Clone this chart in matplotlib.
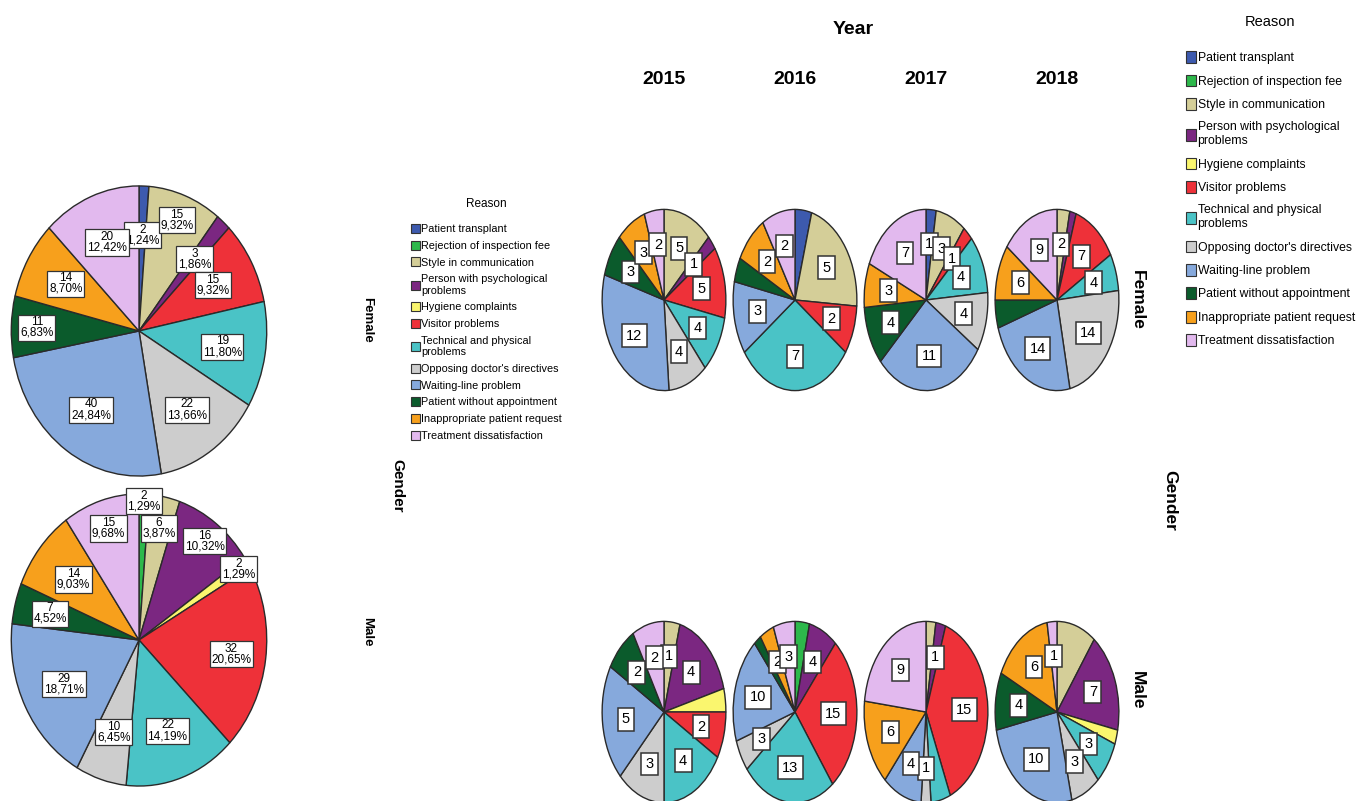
import matplotlib
matplotlib.use("Agg")
import matplotlib.pyplot as plt
from matplotlib.patches import Patch
import numpy as np

# Complaint reasons and their colours (SPSS style)
reasons = ["Patient transplant", "Rejection of inspection fee", "Style in communication",
           "Person with psychological\nproblems", "Hygiene complaints", "Visitor problems",
           "Technical and physical\nproblems", "Opposing doctor's directives",
           "Waiting-line problem", "Patient without appointment",
           "Inappropriate patient request", "Treatment dissatisfaction"]
colors = ["#3D5AAE", "#2DB84B", "#D4CE98", "#7B2781", "#FAF66E", "#EE3139",
          "#4AC3C6", "#CDCDCD", "#86A9DC", "#0B5B2C", "#F7A01C", "#E2B9EE"]

# Totals by gender
female_total = [2, 0, 15, 3, 0, 15, 19, 22, 40, 11, 14, 20]
male_total = [0, 2, 6, 16, 2, 32, 22, 10, 29, 7, 14, 15]

# Counts by gender and year
years = ["2015", "2016", "2017", "2018"]
female_2015 = [0, 0, 5, 1, 0, 5, 4, 4, 12, 3, 3, 2]
female_2016 = [1, 0, 5, 0, 0, 2, 7, 0, 3, 1, 2, 2]
female_2017 = [1, 0, 3, 0, 0, 1, 4, 4, 11, 4, 3, 7]
female_2018 = [0, 0, 2, 1, 0, 7, 4, 14, 14, 3, 6, 9]
male_2015 = [0, 0, 1, 4, 1, 2, 4, 3, 5, 2, 0, 2]
male_2016 = [0, 2, 0, 4, 0, 15, 13, 3, 10, 1, 2, 3]
male_2017 = [0, 0, 1, 1, 0, 15, 2, 1, 4, 0, 6, 9]
male_2018 = [0, 0, 4, 7, 1, 0, 3, 3, 10, 4, 6, 1]

# slices that carry no label in the original (hidden by label collisions)
female_hidden = [[], [0, 9], [], [3, 9]]
male_hidden = [[4], [1, 9], [2, 6], [2, 4]]
# label distance from centre for the big pies (fraction of radius)
female_label_r = {2: 0.82, 9: 0.8}
male_label_r = {1: 0.95, 2: 0.78, 3: 0.85, 4: 0.92, 11: 0.8, 5: 0.73, 9: 0.72}

W, H = 1366, 801
fig = plt.figure(figsize=(W / 100, H / 100), dpi=100)
arial = ["Liberation Sans", "DejaVu Sans"]


def px_axes(cx, cy, w, h):
    return fig.add_axes([(cx - w / 2) / W, 1 - (cy + h / 2) / H, w / W, h / H])


def draw_pie(ax, values, big=False, hidden=(), label_r=None):
    vals = np.array(values, dtype=float)
    keep = vals > 0
    idx = np.where(keep)[0]
    ax.pie(vals[keep], colors=[colors[i] for i in idx], startangle=90, counterclock=False,
           wedgeprops=dict(edgecolor="#2a2a2a", linewidth=1.0))
    ax.set_aspect("auto")
    ax.set_xlim(-1.01, 1.01)
    ax.set_ylim(-1.01, 1.01)
    total = vals.sum()
    start = 90.0
    for i in idx:
        span = vals[i] / total * 360
        mid = np.radians(start - span / 2)
        start -= span
        if i in hidden:
            continue
        if big:
            r = (label_r or {}).get(i, 0.66)
            txt = f"{int(vals[i])}\n{vals[i] / total * 100:.2f}%".replace(".", ",")
            ax.text(r * np.cos(mid), r * np.sin(mid), txt, ha="center", va="center",
                    fontsize=8.5, family=arial, linespacing=0.85,
                    bbox=dict(boxstyle="square,pad=0.15", fc="white", ec="#333333", lw=0.9))
        else:
            r = 0.62
            ax.text(r * np.cos(mid), r * np.sin(mid), str(int(vals[i])), ha="center",
                    va="center", fontsize=10.5, family=arial,
                    bbox=dict(boxstyle="square,pad=0.3", fc="white", ec="#333333", lw=1.1))


# Left: pies per gender
draw_pie(px_axes(139, 331, 258, 293), female_total, big=True, label_r=female_label_r)
draw_pie(px_axes(139, 640, 258, 295), male_total, big=True, label_r=male_label_r)

# Right: pies per gender and year
xs = [664, 795, 926, 1057]
fem = [female_2015, female_2016, female_2017, female_2018]
mal = [male_2015, male_2016, male_2017, male_2018]
for k in range(4):
    draw_pie(px_axes(xs[k], 300, 125, 183), fem[k], hidden=female_hidden[k])
    draw_pie(px_axes(xs[k], 712, 125, 183), mal[k], hidden=male_hidden[k])
    fig.text(xs[k] / W, 1 - 80 / H, years[k], ha="center", va="center",
             fontsize=14, fontweight="bold", family=arial)

fig.text(853 / W, 1 - 30 / H, "Year", ha="center", va="center", fontsize=14,
         fontweight="bold", family=arial)

# Gender labels
fig.text(367 / W, 1 - 320 / H, "Female", rotation=-90, ha="center", va="center",
         fontsize=9.5, fontweight="bold", family=arial)
fig.text(367 / W, 1 - 632 / H, "Male", rotation=-90, ha="center", va="center",
         fontsize=9.5, fontweight="bold", family=arial)
fig.text(397 / W, 1 - 486 / H, "Gender", rotation=-90, ha="center", va="center",
         fontsize=11, fontweight="bold", family=arial)
fig.text(1137 / W, 1 - 300 / H, "Female", rotation=-90, ha="center", va="center",
         fontsize=12.5, fontweight="bold", family=arial)
fig.text(1137 / W, 1 - 690 / H, "Male", rotation=-90, ha="center", va="center",
         fontsize=12.5, fontweight="bold", family=arial)
fig.text(1170 / W, 1 - 500 / H, "Gender", rotation=-90, ha="center", va="center",
         fontsize=12.5, fontweight="bold", family=arial)

# Legends
handles = [Patch(facecolor=c, edgecolor="#333333", linewidth=0.8) for c in colors]
leg1 = fig.legend(handles, reasons, loc="upper left", bbox_to_anchor=(411 / W, 1 - 198 / H),
                  frameon=False, title="Reason", prop=dict(family=arial, size=7.8),
                  handlelength=0.8, handleheight=0.9, handletextpad=0.15,
                  labelspacing=0.6, borderpad=0, borderaxespad=0)
leg1.get_title().set_fontsize(8.5)
leg1.get_title().set_family(arial)
leg1._legend_box.sep = 10

leg2 = fig.legend(handles, reasons, loc="upper left", bbox_to_anchor=(1186 / W, 1 - 15 / H),
                  frameon=False, title="Reason", prop=dict(family=arial, size=8.8),
                  handlelength=0.8, handleheight=1.1, handletextpad=0.15,
                  labelspacing=0.85, borderpad=0, borderaxespad=0)
leg2.get_title().set_fontsize(10.5)
leg2.get_title().set_family(arial)
leg2._legend_box.sep = 16

fig.savefig("out.png", dpi=100)
